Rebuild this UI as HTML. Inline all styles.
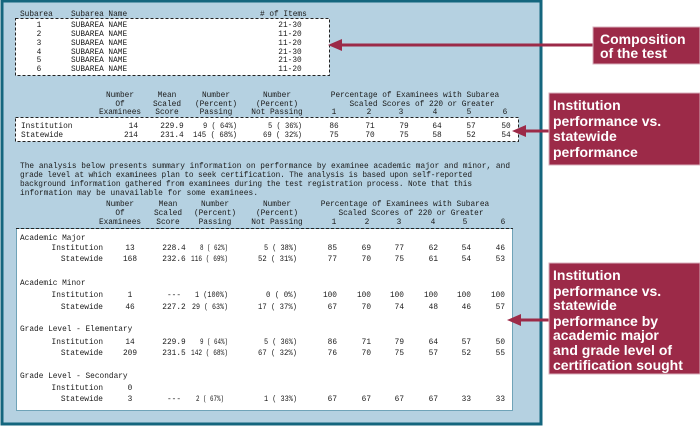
<!DOCTYPE html>
<html><head><meta charset="utf-8"><style>
html,body{margin:0;padding:0;background:#fff;width:700px;height:427px;overflow:hidden}
svg{display:block}
.m{font-family:"Liberation Mono",monospace;font-size:7.8px;fill:#1a1a1a}
.c{font-family:"Liberation Sans",sans-serif;font-weight:bold;font-size:14px;fill:#fff}
</style></head><body>
<svg width="700" height="427" xmlns="http://www.w3.org/2000/svg">
<rect x="2" y="1" width="539" height="423" fill="#b5d1e1" stroke="#14667e" stroke-width="3"/>
<rect x="15.5" y="18.5" width="314" height="57" fill="#fff" stroke="#222" stroke-width="1" stroke-dasharray="3,2"/>
<rect x="15.5" y="117.5" width="503" height="24" fill="#fff" stroke="#222" stroke-width="1" stroke-dasharray="3,2"/>
<rect x="16.5" y="228.5" width="496" height="182" fill="#fff" stroke="#6fa3b8" stroke-width="1"/>
<line x1="16" y1="228.5" x2="513" y2="228.5" stroke="#222" stroke-dasharray="3,2"/>

<g class="m">
<text x="20" y="16">Subarea</text><text x="71" y="16">Subarea Name</text><text x="260" y="16"># of Items</text>
<g text-anchor="middle">
<text x="39" y="27">1</text><text x="39" y="36">2</text><text x="39" y="45">3</text><text x="39" y="54">4</text><text x="39" y="62">5</text><text x="39" y="71">6</text>
<text x="290" y="27">21-30</text><text x="290" y="36">11-20</text><text x="290" y="45">11-20</text><text x="290" y="54">21-30</text><text x="290" y="62">21-30</text><text x="290" y="71">11-20</text>
</g>
<text x="71" y="27">SUBAREA NAME</text><text x="71" y="36">SUBAREA NAME</text><text x="71" y="45">SUBAREA NAME</text><text x="71" y="54">SUBAREA NAME</text><text x="71" y="62">SUBAREA NAME</text><text x="71" y="71">SUBAREA NAME</text>

<g text-anchor="middle">
<text x="120" y="97">Number</text><text x="120" y="106">Of</text><text x="120" y="114">Examinees</text>
<text x="167" y="97">Mean</text><text x="167" y="106">Scaled</text><text x="167" y="114">Score</text>
<text x="216" y="97">Number</text><text x="216" y="106">(Percent)</text><text x="216" y="114">Passing</text>
<text x="277" y="97">Number</text><text x="277" y="106">(Percent)</text><text x="277" y="114">Not Passing</text>
<text x="415" y="97">Percentage of Examinees with Subarea</text>
<text x="422" y="106">Scaled Scores of 220 or Greater</text>
<text x="334" y="114">1</text><text x="369" y="114">2</text><text x="401" y="114">3</text><text x="435" y="114">4</text><text x="469" y="114">5</text><text x="505" y="114">6</text>
</g>
<text x="21" y="128">Institution</text><text x="21" y="137">Statewide</text>
<text x="138" y="128" text-anchor="end">14</text><text x="138" y="137" text-anchor="end">214</text>
<text x="203" y="128" textLength="34" lengthAdjust="spacingAndGlyphs">9 ( 64%)</text>
<text x="193" y="137" textLength="44" lengthAdjust="spacingAndGlyphs">145 ( 68%)</text>
<text x="268" y="128" textLength="34" lengthAdjust="spacingAndGlyphs">5 ( 36%)</text>
<text x="263" y="137" textLength="39" lengthAdjust="spacingAndGlyphs">69 ( 32%)</text>
<g text-anchor="middle">
<text x="172" y="128">229.9</text><text x="172" y="137">231.4</text>
<text x="334" y="128">86</text><text x="370" y="128">71</text><text x="404" y="128">79</text><text x="437" y="128">64</text><text x="471" y="128">57</text><text x="506" y="128">50</text>
<text x="334" y="137">75</text><text x="370" y="137">70</text><text x="404" y="137">75</text><text x="437" y="137">58</text><text x="471" y="137">52</text><text x="506" y="137">54</text>
</g>

<text x="20" y="168" textLength="490">The analysis below presents summary information on performance by examinee academic major and minor, and</text>
<text x="20" y="177" textLength="452">grade level at which examinees plan to seek certification. The analysis is based upon self-reported</text>
<text x="20" y="186" textLength="452">background information gathered from examinees during the test registration process. Note that this</text>
<text x="20" y="195" textLength="238">information may be unavailable for some examinees.</text>

<g text-anchor="middle">
<text x="120" y="206">Number</text><text x="120" y="215">Of</text><text x="120" y="224">Examinees</text>
<text x="168" y="206">Mean</text><text x="168" y="215">Scaled</text><text x="168" y="224">Score</text>
<text x="215" y="206">Number</text><text x="215" y="215">(Percent)</text><text x="215" y="224">Passing</text>
<text x="277" y="206">Number</text><text x="277" y="215">(Percent)</text><text x="277" y="224">Not Passing</text>
<text x="405" y="206">Percentage of Examinees with Subarea</text>
<text x="411" y="215">Scaled Scores of 220 or Greater</text>
<text x="334" y="224">1</text><text x="367" y="224">2</text><text x="399" y="224">3</text><text x="433" y="224">4</text><text x="465" y="224">5</text><text x="503" y="224">6</text>
</g>

<text x="20" y="240">Academic Major</text>
<text x="20" y="285">Academic Minor</text>
<text x="20" y="331">Grade Level - Elementary</text>
<text x="20" y="378">Grade Level - Secondary</text>

<g text-anchor="end">
<text x="103" y="250">Institution</text><text x="103" y="261">Statewide</text>
<text x="103" y="297">Institution</text><text x="103" y="309">Statewide</text>
<text x="103" y="344">Institution</text><text x="103" y="355">Statewide</text>
<text x="103" y="390">Institution</text><text x="103" y="401">Statewide</text>
</g>

<g text-anchor="middle">
<text x="130" y="250">13</text><text x="130" y="261">168</text>
<text x="130" y="297">1</text><text x="130" y="309">46</text>
<text x="130" y="344">14</text><text x="130" y="355">209</text>
<text x="130" y="390">0</text><text x="130" y="401">3</text>
<text x="174" y="250">228.4</text><text x="174" y="261">232.6</text>
<text x="174" y="297">---</text><text x="174" y="309">227.2</text>
<text x="174" y="344">229.9</text><text x="174" y="355">231.5</text>
<text x="174" y="401">---</text>
</g>
<g>
<text x="200" y="250" textLength="28" lengthAdjust="spacingAndGlyphs">8 ( 62%)</text>
<text x="191" y="261" textLength="37" lengthAdjust="spacingAndGlyphs">116 ( 69%)</text>
<text x="195" y="297" textLength="33" lengthAdjust="spacingAndGlyphs">1 (100%)</text>
<text x="192" y="309" textLength="36" lengthAdjust="spacingAndGlyphs">29 ( 63%)</text>
<text x="200" y="344" textLength="28" lengthAdjust="spacingAndGlyphs">9 ( 64%)</text>
<text x="191" y="355" textLength="37" lengthAdjust="spacingAndGlyphs">142 ( 68%)</text>
<text x="196" y="401" textLength="28" lengthAdjust="spacingAndGlyphs">2 ( 67%)</text>
<text x="264" y="250" textLength="33" lengthAdjust="spacingAndGlyphs">5 ( 38%)</text>
<text x="258" y="261" textLength="39" lengthAdjust="spacingAndGlyphs">52 ( 31%)</text>
<text x="266" y="297" textLength="31" lengthAdjust="spacingAndGlyphs">0 ( 0%)</text>
<text x="258" y="309" textLength="39" lengthAdjust="spacingAndGlyphs">17 ( 37%)</text>
<text x="264" y="344" textLength="33" lengthAdjust="spacingAndGlyphs">5 ( 36%)</text>
<text x="258" y="355" textLength="39" lengthAdjust="spacingAndGlyphs">67 ( 32%)</text>
<text x="264" y="401" textLength="33" lengthAdjust="spacingAndGlyphs">1 ( 33%)</text>
</g>
<g text-anchor="end">
<text x="337" y="250">85</text><text x="371" y="250">69</text><text x="404" y="250">77</text><text x="438" y="250">62</text><text x="471" y="250">54</text><text x="505" y="250">46</text>
<text x="337" y="261">77</text><text x="371" y="261">70</text><text x="404" y="261">75</text><text x="438" y="261">61</text><text x="471" y="261">54</text><text x="505" y="261">53</text>
<text x="337" y="297">100</text><text x="371" y="297">100</text><text x="404" y="297">100</text><text x="438" y="297">100</text><text x="471" y="297">100</text><text x="505" y="297">100</text>
<text x="337" y="309">67</text><text x="371" y="309">70</text><text x="404" y="309">74</text><text x="438" y="309">48</text><text x="471" y="309">46</text><text x="505" y="309">57</text>
<text x="337" y="344">86</text><text x="371" y="344">71</text><text x="404" y="344">79</text><text x="438" y="344">64</text><text x="471" y="344">57</text><text x="505" y="344">50</text>
<text x="337" y="355">76</text><text x="371" y="355">70</text><text x="404" y="355">75</text><text x="438" y="355">57</text><text x="471" y="355">52</text><text x="505" y="355">55</text>
<text x="337" y="401">67</text><text x="371" y="401">67</text><text x="404" y="401">67</text><text x="438" y="401">67</text><text x="471" y="401">33</text><text x="505" y="401">33</text>
</g>
</g>

<g fill="#9c2a48" stroke="#9c2a48">
<line x1="338" y1="45" x2="594" y2="45" stroke-width="3"/>
<polygon points="328,45 342,39 342,51" stroke="none"/>
<line x1="522" y1="131" x2="550" y2="131" stroke-width="3"/>
<polygon points="512,131 526,125 526,137" stroke="none"/>
<line x1="517" y1="320" x2="550" y2="320" stroke-width="3"/>
<polygon points="507,320 521,314 521,326" stroke="none"/>
</g>
<rect x="593" y="27" width="107" height="37" fill="#9c2a48" stroke="#d8b0bc" stroke-width="1"/>
<rect x="549" y="93" width="151" height="72" fill="#9c2a48" stroke="#d8b0bc" stroke-width="1"/>
<rect x="549" y="263" width="151" height="111" fill="#9c2a48" stroke="#d8b0bc" stroke-width="1"/>
<g class="c">
<text x="600" y="44">Composition</text><text x="600" y="58">of the test</text>
<text x="553" y="110">Institution</text><text x="553" y="126">performance vs.</text><text x="553" y="141">statewide</text><text x="553" y="157">performance</text>
<text x="553" y="280">Institution</text><text x="553" y="296">performance vs.</text><text x="553" y="310">statewide</text><text x="553" y="326">performance by</text><text x="553" y="340">academic major</text><text x="553" y="355">and grade level of</text><text x="553" y="370">certification sought</text>
</g>
</svg>
</body></html>
